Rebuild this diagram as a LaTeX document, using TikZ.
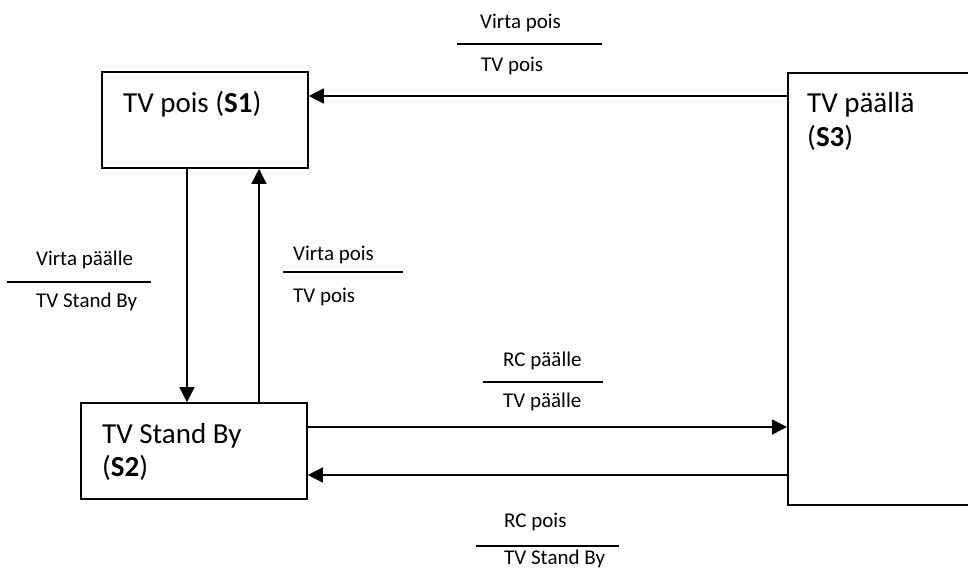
\documentclass[tikz,border=0pt]{standalone}
\usepackage{fontspec}
\setmainfont{Carlito}
\usetikzlibrary{arrows.meta,positioning}
\tikzset{
  state/.style={draw, line width=1.6pt, inner sep=0pt},
  big/.style={anchor=base west, inner sep=0pt, font=\fontsize{29}{34}\selectfont},
  small/.style={anchor=base west, inner sep=0pt, font=\fontsize{21}{25}\selectfont},
  arr/.style={line width=1.5pt, -{Triangle[length=15pt,width=15pt]}},
  bar/.style={line width=2.3pt}
}

\begin{document}
\begin{tikzpicture}[x=1pt,y=-1pt]
  \useasboundingbox (0,0) rectangle (968,570);
  \clip (0,0) rectangle (968,570);

  \node[state, minimum width=206pt, minimum height=96pt] (S1) at (205,120) {};
  \node[state, minimum width=226pt, minimum height=96pt] (S2) at (194,451) {};
  \node[state, anchor=north west, minimum width=240pt, minimum height=432pt] (S3) at (787,72) {};

  \node[big] (s1name) at (123,112) {TV pois (\textbf{S1})};
  \node[big] (s2name) at (102,443) {TV Stand By};
  \node[big] (s2id) at (102,476) {(\textbf{S2})};
  \node[big] (s3name) at (807,112) {TV päällä};
  \node[big] (s3id) at (807,146) {(\textbf{S3})};

  \coordinate (s1in) at ([yshift=24pt]S1.east);
  \coordinate (s2out) at ([yshift=24pt]S2.east);
  \coordinate (s2in) at ([yshift=-24pt]S2.east);
  \coordinate (s1down) at ([xshift=-18pt]S1.south);
  \coordinate (s1up) at ([xshift=54pt]S1.south);

  \draw[arr] (S3.west |- s1in) -- (s1in);
  \draw[arr] (s1down) -- (s1down |- S2.north);
  \draw[arr] (s1up |- S2.north) -- (s1up);
  \draw[arr] (s2out) -- (S3.west |- s2out);
  \draw[arr] (S3.west |- s2in) -- (s2in);

  \node[small] (offtop) at (480,28) {Virta pois};
  \draw[bar] (457,44) -- (602,44);
  \node[small] (offtopout) at (481,71) {TV pois};

  \node[small] (powon) at (36,265) {Virta päälle};
  \draw[bar] (7,282) -- (151,282);
  \node[small] (powonout) at (36,307) {TV Stand By};

  \node[small] (offmid) at (293,260) {Virta pois};
  \draw[bar] (283,272) -- (403,272);
  \node[small] (offmidout) at (293,302) {TV pois};

  \node[small] (rcon) at (503,366) {RC päälle};
  \draw[bar] (483,382) -- (603,382);
  \node[small] (rconout) at (503,407) {TV päälle};

  \node[small] (rcoff) at (504,527) {RC pois};
  \draw[bar] (476,546) -- (619,546);
  \node[small] (rcoffout) at (504,564) {TV Stand By};
\end{tikzpicture}
\end{document}
